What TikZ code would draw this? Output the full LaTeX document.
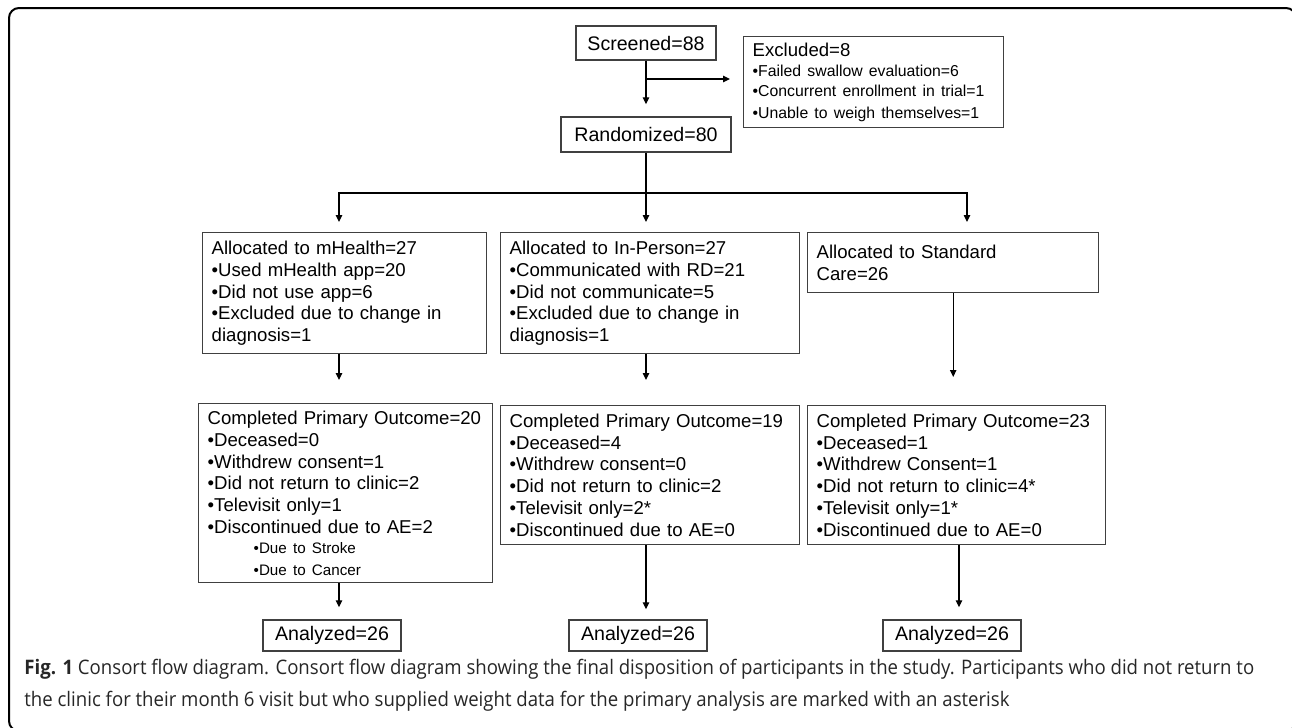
\documentclass[tikz,border=0pt]{standalone}
\usepackage{fontspec}
\setmainfont{Liberation Sans}
\newfontfamily\capfont[FakeStretch=0.93]{Open Sans}
\usetikzlibrary{arrows.meta}
\usetikzlibrary{calc}

\newcommand\fs[2]{\fontsize{#1}{#2}\selectfont}
\newcommand\sub{\par\hspace*{23pt}\fs{7.6}{10}}
\tikzstyle{box}=[draw=black!75,line width=.7pt,inner sep=0pt]
\tikzstyle{cbox}=[box,font=\fs{9.8}{12}]
\tikzstyle{lbox}=[box,anchor=north west,align=left,inner xsep=4.5pt,font=\fs{9.3}{10.9}]
\tikzstyle{flow}=[line width=.6pt,-{Triangle[length=3.5pt,width=3.2pt]},shorten >=5pt]

\begin{document}
\begin{tikzpicture}[x=.5pt,y=-.5pt]
	\useasboundingbox (0,0) rectangle (1292,728);
	\draw[line width=1pt,rounded corners=5pt] (9,8) rectangle (1296,731);

	\node[cbox,minimum width=70pt,minimum height=17pt] (scr) at (646,43) {Screened=88};
	\node[lbox,text width=121pt,minimum height=45.5pt] (excl) at (743,36)
		{{\fs{9.3}{11}Excluded=8}\\[.5pt]\fs{7.9}{9.8}%
		 •Failed swallow evaluation=6\\ •Concurrent enrollment in trial=1\\ •Unable to weigh themselves=1};
	\node[cbox,minimum width=85pt,minimum height=17.5pt] (rand) at (646,134.5) {Randomized=80};

	\node[lbox,text width=133pt,minimum height=60.5pt] (al1) at (202,232)
		{Allocated to mHealth=27\\ •Used mHealth app=20\\ •Did not use app=6\\ •Excluded due to change in\\ diagnosis=1};
	\node[lbox,text width=140.5pt,minimum height=60.5pt] (al2) at (500,232)
		{Allocated to In-Person=27\\ •Communicated with RD=21\\ •Did not communicate=5\\ •Excluded due to change in\\ diagnosis=1};
	\node[lbox,text width=136.5pt,minimum height=30pt] (al3) at (807,232)
		{Allocated to Standard\\ Care=26};

	\node[lbox,text width=138pt,minimum height=89.5pt] (out1) at (198,403)
		{Completed Primary Outcome=20\\ •Deceased=0\\ •Withdrew consent=1\\ •Did not return to clinic=2\\ •Televisit only=1\\ •Discontinued due to AE=2%
		 \sub •Due to Stroke\\ \hspace*{23pt}•Due to Cancer};
	\node[lbox,text width=140.5pt,minimum height=69.5pt] (out2) at (500,405)
		{Completed Primary Outcome=19\\ •Deceased=4\\ •Withdrew consent=0\\ •Did not return to clinic=2\\ •Televisit only=2*\\ •Discontinued due to AE=0};
	\node[lbox,text width=140pt,minimum height=69.5pt] (out3) at (807,405)
		{Completed Primary Outcome=23\\ •Deceased=1\\ •Withdrew Consent=1\\ •Did not return to clinic=4*\\ •Televisit only=1*\\ •Discontinued due to AE=0};

	\node[cbox,minimum width=69pt,minimum height=15.5pt] (an1) at (332,635.5) {Analyzed=26};
	\node[cbox,minimum width=69pt,minimum height=15.5pt] (an2) at (638,635.5) {Analyzed=26};
	\node[cbox,minimum width=69pt,minimum height=15.5pt] (an3) at (952,635.5) {Analyzed=26};

	\node[anchor=north west,align=left,inner sep=0pt,text=black!85,font=\capfont\fs{10}{16}] (cap) at (24,659)
		{\textbf{Fig. 1} Consort flow diagram. Consort flow diagram showing the final disposition of participants in the study. Participants who did not return to\\
		 the clinic for their month 6 visit but who supplied weight data for the primary analysis are marked with an asterisk};

	\coordinate (bend)  at (646,79);
	\coordinate (split) at (646,193);
	\coordinate (c1) at (339,0);
	\coordinate (c3) at (967,0);
	\coordinate (c4) at (959,0);

	\draw[flow,shorten >=6pt] (scr) -- (rand);
	\draw[flow,shorten >=6.5pt] (bend) -- (bend -| excl.west);
	\draw[line width=.6pt] (rand) -- (split);
	\draw[flow] (split) -| (al1.north -| c1);
	\draw[flow] (split) -- (al2.north -| split);
	\draw[flow] (split) -| (al3.north -| c3);
	\draw[flow,shorten >=11.5pt] (al1.south -| c1) -- (out1.north -| c1);
	\draw[flow,shorten >=12.5pt] (al2.south -| split) -- (out2.north -| split);
	\draw[flow,shorten >=14pt] (al3) -- (out3.north -| al3);
	\draw[flow,shorten >=6pt] (out1.south -| c1) -- (an1.north -| c1);
	\draw[flow] (out2.south -| split) -- (an2.north -| split);
	\draw[flow,shorten >=6pt] (out3.south -| c4) -- (an3.north -| c4);
\end{tikzpicture}
\end{document}
